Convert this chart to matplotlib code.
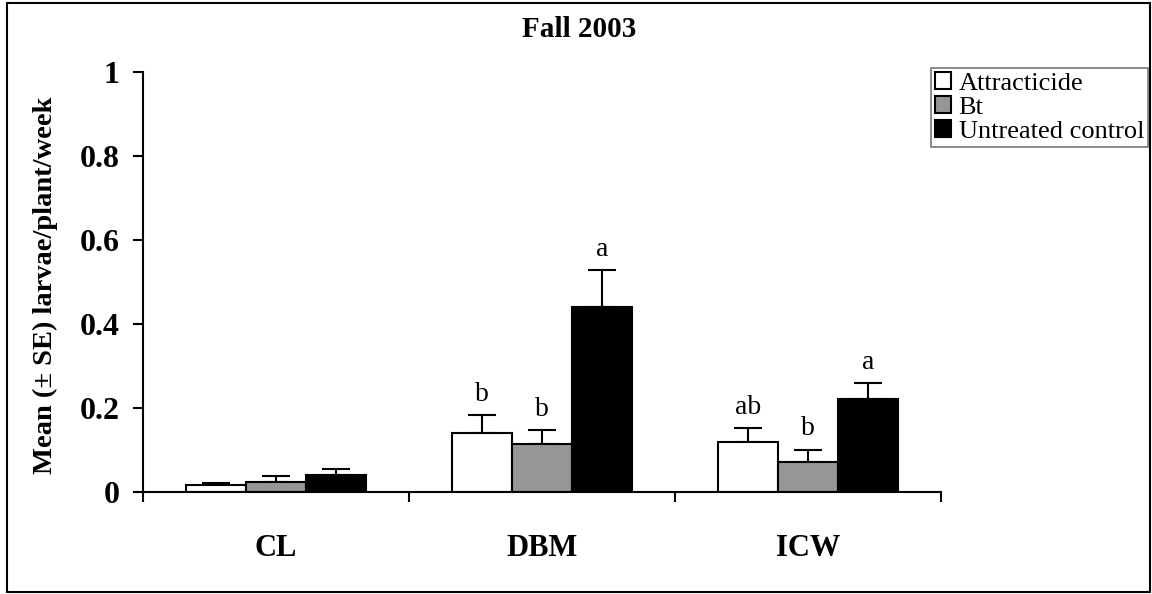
import numpy as np
import matplotlib.pyplot as plt
from matplotlib.patches import Rectangle

# mean larvae per plant per week, fall 2003
species = ["CL", "DBM", "ICW"]
treatments = ["Attracticide", "Bt", "Untreated control"]
attracticide = [0.016, 0.140, 0.119]
bt = [0.025, 0.115, 0.071]
control = [0.040, 0.440, 0.221]
attracticide_se = [0.005, 0.043, 0.033]
bt_se = [0.013, 0.032, 0.030]
control_se = [0.015, 0.088, 0.038]
# mean separation letters (blank = no letter shown)
letters = [["", "b", "ab"], ["", "b", "b"], ["", "a", "a"]]

plt.rcParams['font.family'] = ['Liberation Serif', 'DejaVu Serif']

fig = plt.figure(figsize=(11.52, 5.94), dpi=100)
ax = fig.add_axes([0.1241, 0.1717, 0.6927, 0.7071])

x = np.arange(len(species))
w = 0.225
colors = ["white", "#969696", "black"]
means = [attracticide, bt, control]
ses = [attracticide_se, bt_se, control_se]

for k in range(3):
    pos = x + (k - 1) * w
    ax.bar(pos, means[k], w, color=colors[k], edgecolor="black", linewidth=1.5,
           label=treatments[k], zorder=2)
    # only the upper half of each error bar is drawn
    ax.errorbar(pos, means[k], yerr=[np.zeros(3), ses[k]], fmt="none",
                ecolor="black", elinewidth=1.5, capsize=10, capthick=1.5, zorder=1)
    for i in range(3):
        if letters[k][i]:
            ax.text(pos[i], means[k][i] + ses[k][i] + 0.02, letters[k][i],
                    ha="center", va="bottom", fontsize=20)

ax.set_xlim(-0.5, 2.5)
ax.set_ylim(0, 1)
ax.set_yticks([0, 0.2, 0.4, 0.6, 0.8, 1])
ax.set_yticklabels(["0", "0.2", "0.4", "0.6", "0.8", "1"], fontsize=23, fontweight="bold")
ax.tick_params(axis="y", direction="out", length=7, width=1.5, pad=10)

# boundaries get tick marks, species names sit between them
ax.set_xticks([-0.5, 0.5, 1.5, 2.5])
ax.set_xticklabels([])
ax.tick_params(axis="x", direction="out", length=7, width=1.5)
ax.set_xticks(x, minor=True)
ax.set_xticklabels(species, minor=True, fontsize=22, fontweight="bold")
ax.tick_params(axis="x", which="minor", length=0, pad=30)

for s in ["top", "right"]:
    ax.spines[s].set_visible(False)
for s in ["left", "bottom"]:
    ax.spines[s].set_linewidth(1.5)

fig.text(0.503, 0.95, "Fall 2003", ha="center", va="center", fontsize=21, fontweight="bold")
fig.text(0.039, 0.52, "Mean (\u00b1 SE) larvae/plant/week", ha="center", va="center",
         rotation=90, fontsize=20.5, fontweight="bold")

leg = fig.legend(loc="upper right", bbox_to_anchor=(0.9965, 0.885), fontsize=19,
                 frameon=True, fancybox=False, shadow=False, handlelength=0.6,
                 handleheight=0.6, handletextpad=0.3, labelspacing=0.05,
                 borderpad=0.15, borderaxespad=0)
leg.get_frame().set_edgecolor("#555555")
leg.get_frame().set_linewidth(1.2)

# outer frame around the whole figure
fig.patches.append(Rectangle((7 / 1152, 2 / 594), 1143 / 1152, 589 / 594,
                             transform=fig.transFigure, fill=False,
                             edgecolor="black", linewidth=1.5))

fig.savefig("out.png", dpi=100)
